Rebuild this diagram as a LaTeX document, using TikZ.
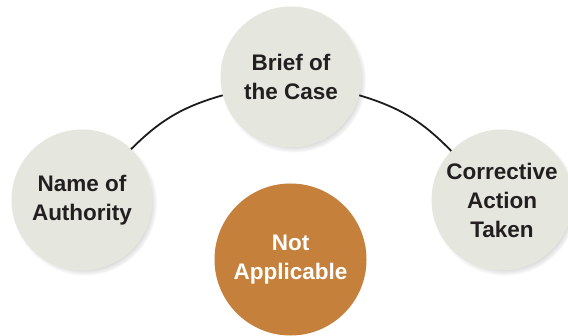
\documentclass[tikz,border=0pt]{standalone}
\usepackage{fontspec}
\setmainfont{Liberation Sans}
\usetikzlibrary{shadows}
\definecolor{bubble}{HTML}{E5E6DE}
\definecolor{accent}{HTML}{C5813C}
\definecolor{ink}{HTML}{231F20}
\definecolor{arcink}{HTML}{1C1C1C}
\tikzset{
  bubblenode/.style={circle, fill=bubble, minimum size=141pt, inner sep=0pt,
    align=center, text=ink, font=\bfseries\fontsize{22.5}{29}\selectfont,
    circular drop shadow={shadow xshift=2.5pt, shadow yshift=-3pt, shadow scale=1.03, opacity=0.45}},
  accentnode/.style={circle, fill=accent, minimum size=152pt, inner sep=0pt,
    align=center, text=white, font=\bfseries\fontsize{22.5}{29}\selectfont},
  arcline/.style={draw=arcink, line width=1.8pt}
}
\begin{document}
\begin{tikzpicture}[x=1pt,y=1pt]
\useasboundingbox (0,0) rectangle (568,335);
\fill[white] (0,0) rectangle (568,335);
\node[accentnode] (na) at (290.5,75.5) {Not\\Applicable};
\node[bubblenode] (top) at (291,258) {Brief of\\the Case};
\node[bubblenode] (left) at (82,135) {Name of\\Authority};
\node[bubblenode] (right) at (502,135) {Corrective\\Action\\Taken};
\draw[arcline] (left.46) to[bend left=14.5] (top.195);
\draw[arcline] (top.-15) to[bend left=14.5] (right.136);
\end{tikzpicture}
\end{document}
